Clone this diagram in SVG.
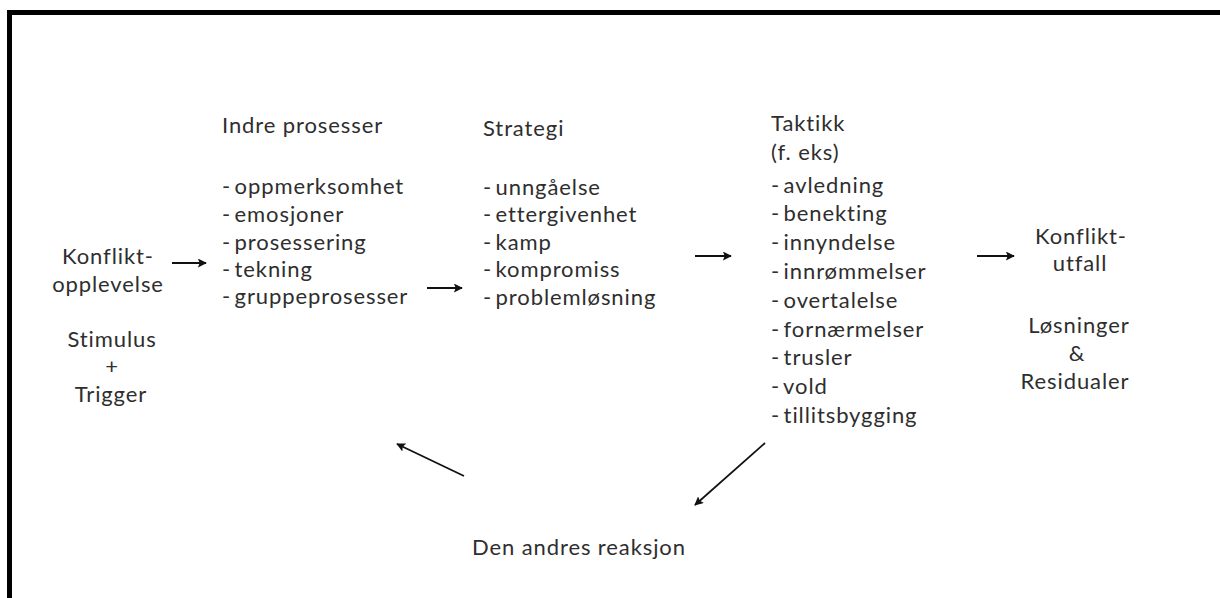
<svg xmlns="http://www.w3.org/2000/svg" width="1220" height="598" viewBox="0 0 1220 598">
  <defs>
    <marker id="ah" viewBox="0 0 10 10" refX="9" refY="5" markerWidth="5" markerHeight="5" orient="auto" markerUnits="strokeWidth">
      <path d="M0,0 L10,5 L0,10 L2,5 Z" fill="#111"/>
    </marker>
    <style>
      text { font-family: Lato, "Open Sans", "Liberation Sans", sans-serif; font-size: 22px; letter-spacing: 0.9px; fill: #2e2e2e; }
      .c { text-anchor: middle; }
      .li { word-spacing: -3px; }
      .conn { stroke: #111; stroke-width: 1.8; fill: none; marker-end: url(#ah); }
    </style>
  </defs>
  <rect x="0" y="0" width="1220" height="598" fill="#ffffff"/>
  <rect x="9.5" y="12.5" width="1300" height="700" fill="none" stroke="#000" stroke-width="5"/>

  <g id="node-start">
    <text class="c" x="108" y="264">Konflikt-</text>
    <text class="c" x="108" y="292">opplevelse</text>
    <text class="c" x="112" y="347">Stimulus</text>
    <text class="c" x="112" y="374">+</text>
    <text class="c" x="111" y="402">Trigger</text>
  </g>

  <g id="node-indre">
    <text x="222" y="133">Indre prosesser</text>
    <text class="li" x="222" y="194">- oppmerksomhet</text>
    <text class="li" x="222" y="222">- emosjoner</text>
    <text class="li" x="222" y="250">- prosessering</text>
    <text class="li" x="222" y="277">- tekning</text>
    <text class="li" x="222" y="304">- gruppeprosesser</text>
  </g>

  <g id="node-strategi">
    <text x="483" y="136">Strategi</text>
    <text class="li" x="483" y="195">- unngåelse</text>
    <text class="li" x="483" y="222">- ettergivenhet</text>
    <text class="li" x="483" y="250">- kamp</text>
    <text class="li" x="483" y="277">- kompromiss</text>
    <text class="li" x="483" y="305">- problemløsning</text>
  </g>

  <g id="node-taktikk">
    <text x="771" y="131">Taktikk</text>
    <text x="771" y="160">(f. eks)</text>
    <text class="li" x="771" y="193">- avledning</text>
    <text class="li" x="771" y="221">- benekting</text>
    <text class="li" x="771" y="250">- innyndelse</text>
    <text class="li" x="771" y="279">- innrømmelser</text>
    <text class="li" x="771" y="308">- overtalelse</text>
    <text class="li" x="771" y="337">- fornærmelser</text>
    <text class="li" x="771" y="365">- trusler</text>
    <text class="li" x="771" y="394">- vold</text>
    <text class="li" x="771" y="423">- tillitsbygging</text>
  </g>

  <g id="node-utfall">
    <text class="c" x="1081" y="244">Konflikt-</text>
    <text class="c" x="1080" y="271">utfall</text>
    <text class="c" x="1079" y="333">Løsninger</text>
    <text class="c" x="1077" y="361">&amp;</text>
    <text class="c" x="1075" y="389">Residualer</text>
  </g>

  <g id="node-reaksjon">
    <text x="472" y="555">Den andres reaksjon</text>
  </g>

  <g id="connectors">
    <line class="conn" x1="172" y1="263" x2="206" y2="263"/>
    <line class="conn" x1="427" y1="288" x2="462" y2="288"/>
    <line class="conn" x1="695" y1="256" x2="731" y2="256"/>
    <line class="conn" x1="977" y1="256" x2="1014" y2="256"/>
    <line class="conn" x1="464" y1="476" x2="397" y2="444"/>
    <line class="conn" x1="765" y1="443" x2="695" y2="505"/>
  </g>
</svg>
